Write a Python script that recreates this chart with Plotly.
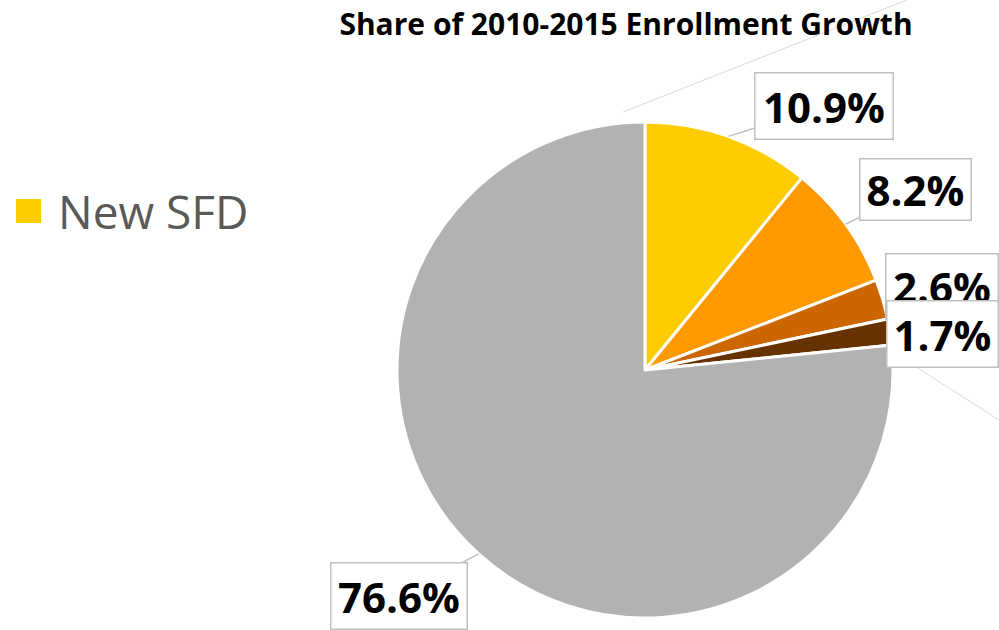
import math
import plotly.graph_objects as go

# Enrollment growth shares (percent), clockwise from 12 o'clock
categories = ["New SFD", "New SFA", "New MF", "New Other", "Existing Housing"]
shares = [10.9, 8.2, 2.6, 1.7, 76.6]
slice_colors = ["#FFCC00", "#FF9900", "#CC6600", "#663300", "#B2B2B2"]
label_text = [f"{v:.1f}%" for v in shares]

W, H = 999, 630
# pie placement in pixels
CX, CY, R = 645, 370, 248

fig = go.Figure()
fig.add_trace(go.Pie(
    labels=categories,
    values=shares,
    sort=False,
    direction="clockwise",
    rotation=0,
    marker=dict(colors=slice_colors, line=dict(color="white", width=3)),
    textinfo="none",
    hoverinfo="label+percent",
    showlegend=False,
    domain=dict(x=[(CX - R) / W, (CX + R) / W], y=[1 - (CY + R) / H, 1 - (CY - R) / H]),
))

# label box offsets (pixels from slice rim point) and box sizes
box_offsets = [(96, -30), (70, -35), (59, -13), (52, 2), (-80, 42)]
box_sizes = [(137, 65), (110, 60), (111, 64), (110, 65), (135, 65)]
show_pointer = [True, True, False, False, True]

total = sum(shares)
cum = 0.0
for i, v in enumerate(shares):
    mid = (cum + v / 2) / total * 2 * math.pi
    cum += v
    px = CX + R * math.sin(mid)
    py = CY - R * math.cos(mid)
    ax, ay = box_offsets[i]
    bw, bh = box_sizes[i]
    fig.add_annotation(
        x=px / W, y=1 - py / H, xref="paper", yref="paper",
        ax=ax, ay=ay, axref="pixel", ayref="pixel",
        text=label_text[i],
        showarrow=True, arrowhead=0, arrowwidth=1.5,
        arrowcolor="#BFBFBF" if show_pointer[i] else "rgba(0,0,0,0)",
        font=dict(family="Open Sans", size=42, color="black", weight="bold"),
        bgcolor="white", bordercolor="#BFBFBF", borderwidth=1.5, borderpad=0,
        width=bw, height=bh, align="center", valign="middle",
    )

# faint guide lines
for (x0, y0, x1, y1) in [(623, 112, 907, 0), (885, 347, 999, 420)]:
    fig.add_shape(type="line", xref="paper", yref="paper",
                  x0=x0 / W, y0=1 - y0 / H, x1=x1 / W, y1=1 - y1 / H,
                  line=dict(color="#D9D9D9", width=1), layer="below")

# legend entry for the first slice
fig.add_shape(type="rect", xref="paper", yref="paper",
              x0=16 / W, x1=41 / W, y0=1 - 223 / H, y1=1 - 199 / H,
              fillcolor=slice_colors[0], line=dict(width=0))
fig.add_annotation(x=56 / W, y=1 - 211 / H, xref="paper", yref="paper",
                   xanchor="left", yanchor="middle", showarrow=False,
                   text=categories[0],
                   font=dict(family="Open Sans", size=46, color="#595959"))

fig.update_layout(
    width=W, height=H,
    margin=dict(l=0, r=0, t=0, b=0),
    paper_bgcolor="white", plot_bgcolor="white",
    title=dict(text="Share of 2010-2015 Enrollment Growth",
               x=626 / W, xanchor="center", y=1 - 24 / H, yanchor="middle",
               font=dict(family="Open Sans", size=30, color="black", weight="bold")),
)

fig.write_html("out.html")
